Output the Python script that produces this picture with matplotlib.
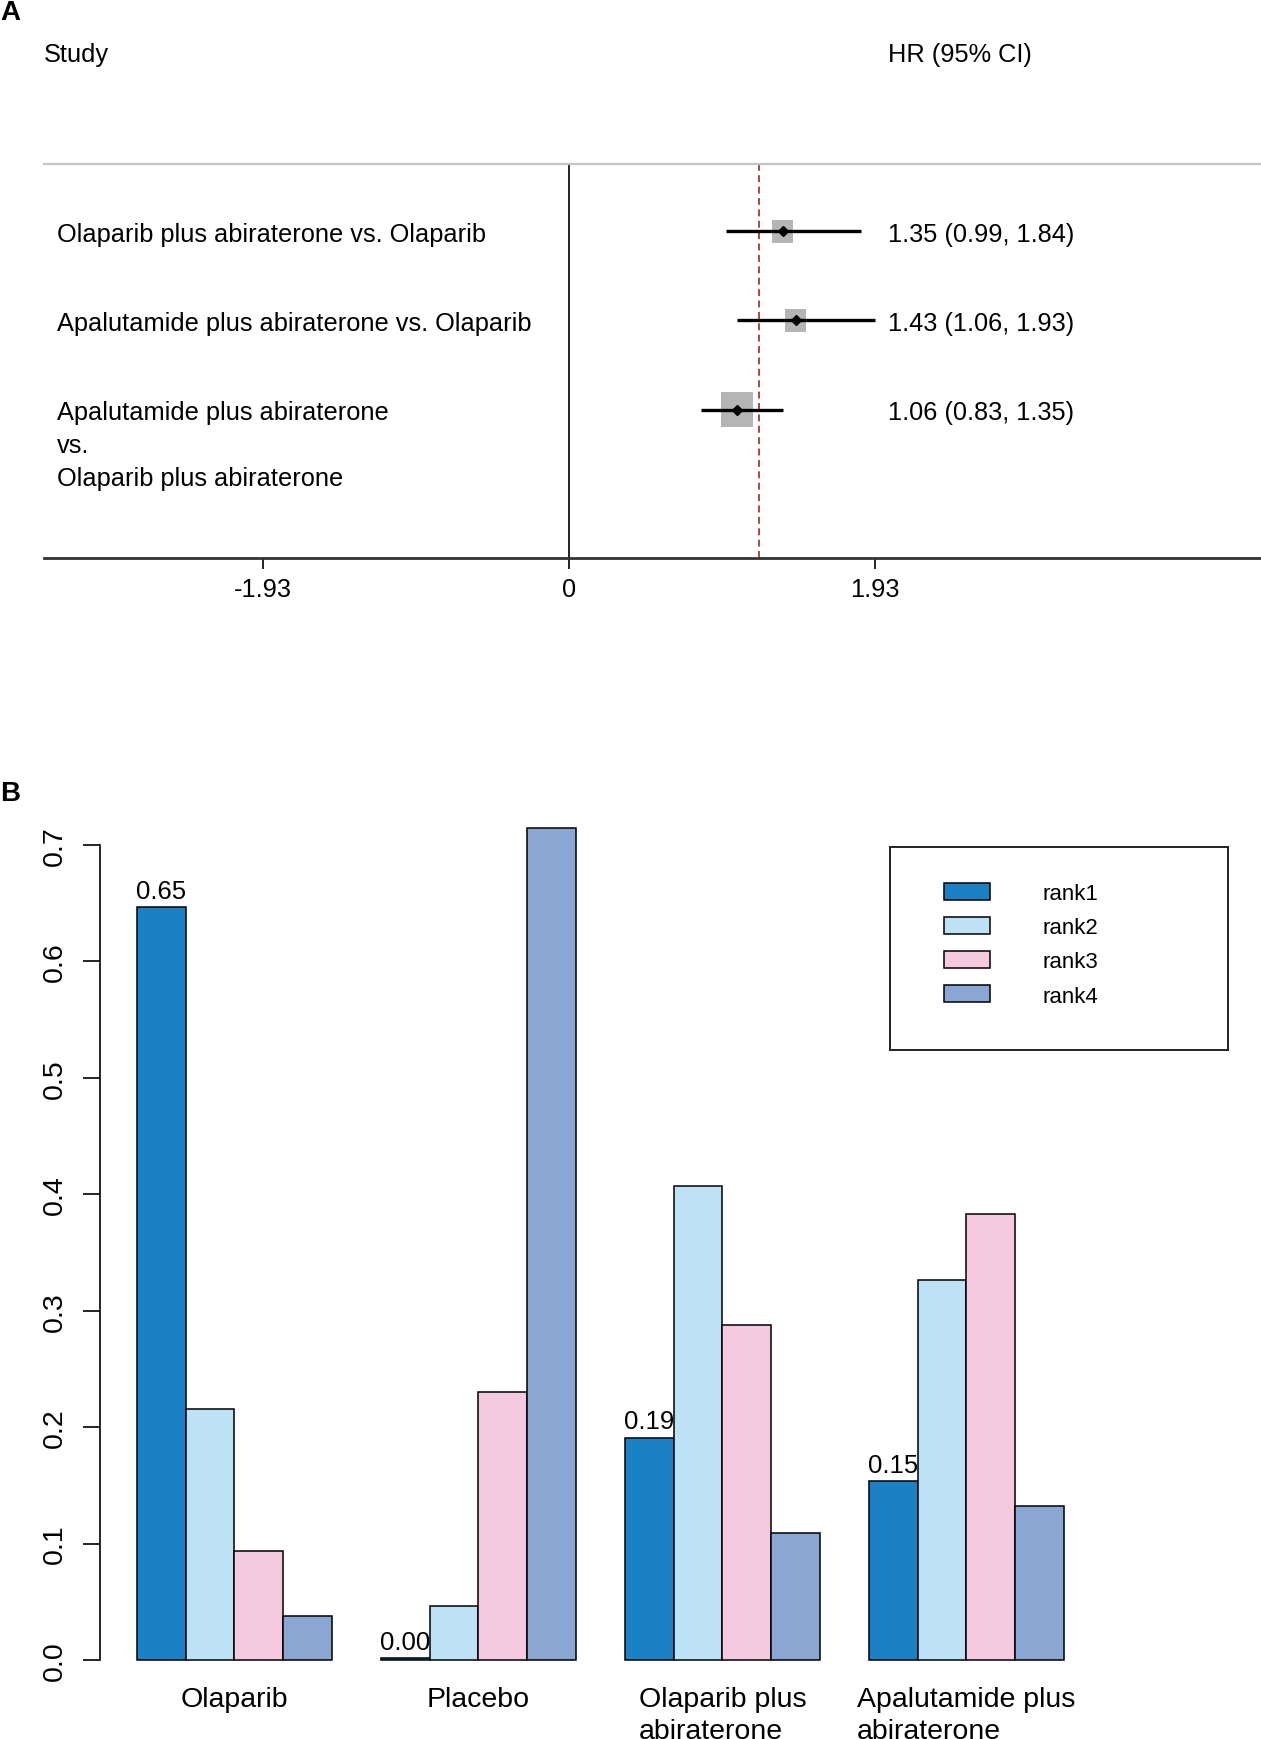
import matplotlib
matplotlib.use("Agg")
import matplotlib.pyplot as plt
from matplotlib.patches import Rectangle
from matplotlib.transforms import offset_copy
import numpy as np

plt.rcParams['font.family'] = ['Liberation Sans', 'DejaVu Sans']
plt.rcParams['lines.scale_dashes'] = False

# ---------------- data ----------------
comparisons = ["Olaparib plus abiraterone vs. Olaparib",
               "Apalutamide plus abiraterone vs. Olaparib",
               "Apalutamide plus abiraterone\nvs.\nOlaparib plus abiraterone"]
hr = [1.35, 1.43, 1.06]
ci_low = [0.99, 1.06, 0.83]
ci_high = [1.84, 1.93, 1.35]
box_w = [0.132, 0.128, 0.197]      # study weight box (x units)
box_h = [0.255, 0.25, 0.39]        # study weight box (row units)
ref_line = 1.20
forest_ticks = [-1.93, 0, 1.93]
forest_ticklabels = ["-1.93", "0", "1.93"]

treatments = ["Olaparib", "Placebo", "Olaparib plus\nabiraterone", "Apalutamide plus\nabiraterone"]
rank_names = ["rank1", "rank2", "rank3", "rank4"]
rank1 = [0.647, 0.002, 0.191, 0.154]
rank2 = [0.216, 0.046, 0.407, 0.326]
rank3 = [0.094, 0.230, 0.288, 0.383]
rank4 = [0.038, 0.715, 0.109, 0.132]
rank_colors = ["#1b80c4", "#bde2f6", "#f5c9de", "#8aa6d3"]
yticks_b = [0.0, 0.1, 0.2, 0.3, 0.4, 0.5, 0.6, 0.7]

W, H = 1261, 1740
fig = plt.figure(figsize=(W / 100, H / 100), dpi=100)

def fx(px):
    return px / W

def fy(py):
    return 1 - py / H

# ---------------- Panel A ----------------
fig.text(fx(0), fy(0), "A", fontsize=20, fontweight="bold", ha="left", va="top")
fig.text(fx(44), fy(55), "Study", fontsize=18.3, ha="left", va="center")
fig.text(fx(888), fy(55), "HR (95% CI)", fontsize=18.3, ha="left", va="center")

ax1 = fig.add_axes([fx(44), fy(559), fx(1261) - fx(44), fy(165) - fy(559)])
ax1.set_xlim(-3.312, 4.366)
ax1.set_ylim(3.663, -0.754)
for s in ["left", "right"]:
    ax1.spines[s].set_visible(False)
ax1.spines["top"].set_color("#c4c4c4")
ax1.spines["top"].set_linewidth(1.6)
ax1.spines["bottom"].set_color("#333333")
ax1.spines["bottom"].set_linewidth(2.0)
ax1.set_yticks([])
ax1.set_xticks(forest_ticks)
ax1.set_xticklabels(forest_ticklabels, fontsize=18.3)
ax1.tick_params(axis="x", direction="out", length=8, width=1.2, pad=6)

ax1.axvline(0, color="black", lw=1.2, zorder=1)
ax1.axvline(ref_line, color="#a33a3a", lw=1.3, ls=(0, (5, 3.2)), zorder=1)

rows = np.arange(len(hr))
for i in rows:
    ax1.add_patch(Rectangle((hr[i] - box_w[i] / 2, i - box_h[i] / 2), box_w[i], box_h[i],
                            facecolor="#b5b5b5", edgecolor="none", zorder=2))
ax1.hlines(rows, ci_low, ci_high, color="black", lw=2.4, zorder=3)
ax1.plot(hr, rows, marker="D", ls="none", color="black", ms=5, zorder=4)

lab_tr = offset_copy(ax1.get_yaxis_transform(), fig=fig, x=0, y=6.8, units="points")
for i, lab in enumerate(comparisons):
    ax1.text((57 - 44) / (1261 - 44), i, lab, transform=lab_tr, fontsize=18.3,
             ha="left", va="top", linespacing=1.48)
    ax1.text((888 - 44) / (1261 - 44), i,
             f"{hr[i]:.2f} ({ci_low[i]:.2f}, {ci_high[i]:.2f})",
             transform=lab_tr, fontsize=18.3, ha="left", va="top")

# ---------------- Panel B ----------------
fig.text(fx(0), fy(781), "B", fontsize=20, fontweight="bold", ha="left", va="top")

ax2 = fig.add_axes([fx(99.7), fy(1661), fx(1101) - fx(99.7), fy(846) - fy(1661)])
ax2.set_xlim(0.24, 20.76)
ax2.set_ylim(0, 0.7)
for s in ["top", "right", "bottom"]:
    ax2.spines[s].set_visible(False)
ax2.spines["left"].set_linewidth(1.2)
ax2.spines["left"].set_bounds(0, 0.7)

ranks = [rank1, rank2, rank3, rank4]
ngroup = len(treatments)
handles = []
for k, vals in enumerate(ranks):
    lefts = 1 + 5 * np.arange(ngroup) + k
    bc = ax2.bar(lefts, vals, width=1, align="edge", color=rank_colors[k],
                 edgecolor="black", linewidth=1.1, clip_on=False, label=rank_names[k])
    handles.append(bc)

for g, v in enumerate(rank1):
    ax2.annotate(f"{v:.2f}", (1.5 + 5 * g, v), xytext=(0, 3), textcoords="offset points",
                 ha="center", va="bottom", fontsize=18.5)

ax2.set_yticks(yticks_b)
ax2.set_yticklabels([f"{t:.1f}" for t in yticks_b], rotation=90, va="center", fontsize=20.5)
ax2.tick_params(axis="y", direction="out", length=12, width=1.2, pad=11)

ax2.set_xticks(3 + 5 * np.arange(ngroup))
ax2.set_xticklabels(treatments, fontsize=20.5, linespacing=1.3)
ax2.tick_params(axis="x", length=0, pad=19)
for t in ax2.get_xticklabels():
    t.set_multialignment("left")

# legend frame
fig.patches.append(Rectangle((fx(890), fy(1051)), fx(1228) - fx(890), fy(848) - fy(1051),
                             transform=fig.transFigure, fill=False, lw=1.4,
                             edgecolor="#222222"))
ax2.legend(handles=handles, labels=rank_names, loc="upper left",
           bbox_to_anchor=(fx(944), fy(884)), bbox_transform=fig.transFigure,
           frameon=False, fontsize=16, handlelength=2.05, handleheight=0.8,
           handletextpad=2.4, labelspacing=0.58, borderpad=0, borderaxespad=0)

fig.savefig("out.png", dpi=100)
